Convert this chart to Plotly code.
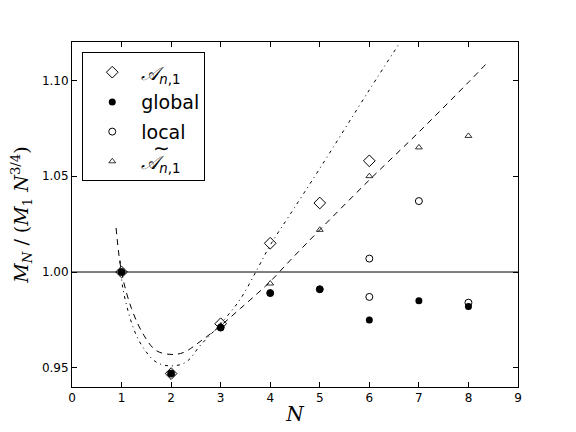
import plotly.graph_objects as go

# ---- data ----
N_A = [1, 2, 3, 4, 5, 6]
A_vals = [1.000, 0.947, 0.973, 1.015, 1.036, 1.058]

N_global = [1, 2, 3, 4, 5, 6, 7, 8]
global_vals = [1.000, 0.947, 0.971, 0.989, 0.991, 0.975, 0.985, 0.982]

N_local = [1, 2, 3, 4, 5, 6, 6, 7, 8]
local_vals = [1.000, 0.947, 0.971, 0.989, 0.991, 1.007, 0.987, 1.037, 0.984]

N_At = [1, 2, 3, 4, 5, 6, 7, 8]
At_vals = [1.000, 0.947, 0.972, 0.994, 1.022, 1.050, 1.065, 1.071]

dash_x = [0.89, 1.0, 1.2, 1.45, 1.7, 2.0, 2.25, 2.6, 3.0, 3.4, 3.75, 4.0, 4.4, 5.0, 6.0, 7.0, 8.0, 8.41]
dash_y = [1.023, 1.000, 0.981, 0.967, 0.959, 0.957, 0.958, 0.964, 0.972, 0.981, 0.989, 0.995, 1.006, 1.022, 1.048, 1.073, 1.099, 1.110]

dot_x = [0.97, 1.03, 1.25, 1.45, 1.7, 2.0, 2.3, 2.6, 3.0, 3.4, 3.75, 4.0, 4.4, 5.0, 6.0, 6.65]
dot_y = [1.006, 0.991, 0.970, 0.960, 0.953, 0.951, 0.953, 0.962, 0.973, 0.986, 1.002, 1.014, 1.030, 1.054, 1.095, 1.121]

ref_x = [0, 9]
ref_y = [1.0, 1.0]

x_ticks = [0, 1, 2, 3, 4, 5, 6, 7, 8, 9]
y_ticks = [0.95, 1.00, 1.05, 1.10]
y_tick_text = ["0.95", "1.00", "1.05", "1.10"]

fig = go.Figure()

fig.add_trace(go.Scatter(x=ref_x, y=ref_y, mode="lines",
                         line=dict(color="black", width=1), showlegend=False, hoverinfo="skip"))
fig.add_trace(go.Scatter(x=dot_x, y=dot_y, mode="lines", line_shape="spline",
                         line=dict(color="black", width=1, dash="3px,4px,1px,4px"),
                         showlegend=False, hoverinfo="skip"))
fig.add_trace(go.Scatter(x=dash_x, y=dash_y, mode="lines", line_shape="spline",
                         line=dict(color="black", width=1, dash="6px,5px"),
                         showlegend=False, hoverinfo="skip"))

fig.add_trace(go.Scatter(x=N_A, y=A_vals, mode="markers", legendgroup="a",
                         name="<i>𝒜</i><sub><i>n</i>,1</sub>",
                         marker=dict(symbol="diamond-open", size=9, color="black",
                                     line=dict(width=1))))
fig.add_trace(go.Scatter(x=N_global, y=global_vals, mode="markers", name="global", legendgroup="b",
                         marker=dict(symbol="circle", size=7, color="black")))
fig.add_trace(go.Scatter(x=N_local, y=local_vals, mode="markers", name="local", legendgroup="c",
                         marker=dict(symbol="circle-open", size=7, color="black",
                                     line=dict(width=1))))
fig.add_trace(go.Scatter(x=N_At, y=At_vals, mode="markers", legendgroup="d",
                         name="<i>𝒜</i><sub><i>n</i>,1</sub>",
                         marker=dict(symbol="triangle-up-open", size=6, color="black",
                                     line=dict(width=0.8))))

axis_common = dict(showgrid=False, zeroline=False, showline=True, linecolor="black",
                   linewidth=1, mirror="ticks", ticks="inside", ticklen=5,
                   tickcolor="black", tickfont=dict(family="DejaVu Sans", size=12, color="black"))

fig.update_xaxes(range=[0, 9], tickvals=x_ticks,
                 title=dict(text="<i>N</i>", font=dict(family="DejaVu Serif", size=20, color="black"),
                            standoff=2),
                 **axis_common)
fig.update_yaxes(range=[0.94, 1.12], tickvals=y_ticks, ticktext=y_tick_text,
                 title=dict(text="<i>M</i><sub><i>N</i></sub> / (<i>M</i><sub>1</sub> <i>N</i><sup>3/4</sup>)",
                            font=dict(family="DejaVu Serif", size=19, color="black"), standoff=8),
                 **axis_common)

# white panel behind the legend (drawn as a layout shape so the tilde stays visible)
fig.add_shape(type="rect", xref="paper", yref="paper", x0=0.023, x1=0.30, y0=0.58, y1=0.97,
              fillcolor="white", line=dict(width=0), layer="below")

# wide tilde over the script A of the last legend entry
fig.add_annotation(xref="paper", yref="paper", x=0.178, y=0.732, text="∼",
                   showarrow=False, font=dict(family="DejaVu Sans", size=20, color="black"))

fig.update_layout(
    width=576, height=432,
    margin=dict(l=64, r=66, t=34, b=53),
    paper_bgcolor="white", plot_bgcolor="white",
    legend=dict(x=0.023, y=0.97, xanchor="left", yanchor="top",
                bordercolor="black", borderwidth=1, bgcolor="rgba(0,0,0,0)",
                font=dict(family="DejaVu Sans", size=19, color="black"),
                itemwidth=48, tracegroupgap=2, traceorder="grouped"),
)

fig.write_html("out.html")
